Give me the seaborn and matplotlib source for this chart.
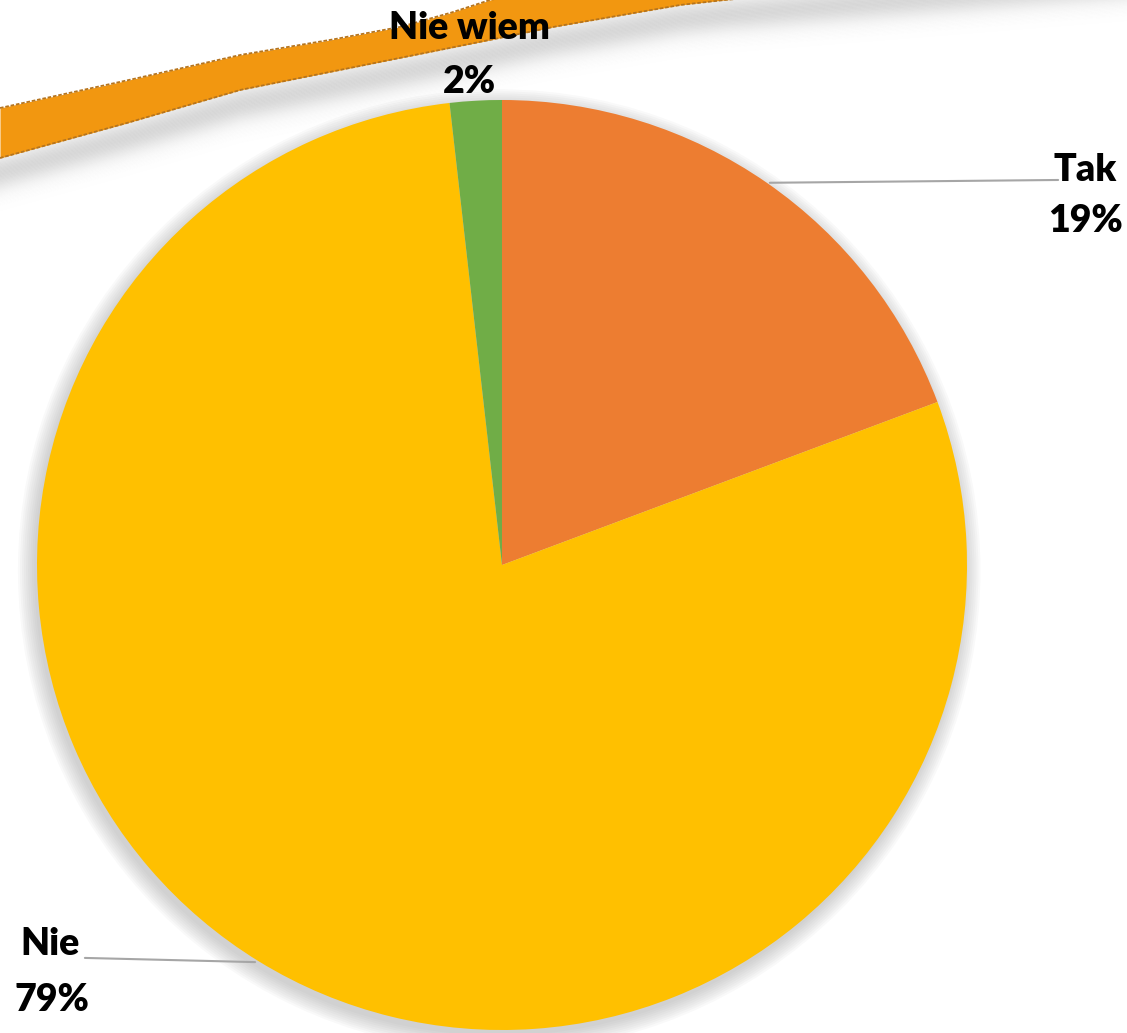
import numpy as np
import matplotlib
matplotlib.use("Agg")
import matplotlib.pyplot as plt
import seaborn as sns

# Data (shares)
categories = ["Tak", "Nie", "Nie wiem"]
shares = [19.3, 78.9, 1.8]
slice_colors = ["#ED7D31", "#FFC000", "#70AD47"]

sns.set_theme(style="white")
plt.rcParams["font.family"] = ["Lato", "DejaVu Sans"]

W, H = 1127, 1033
fig = plt.figure(figsize=(W / 100, H / 100), dpi=100)
fig.patch.set_facecolor("white")

# decoration layer in pixel coordinates (orange swoosh + shadow)
deco = fig.add_axes([0, 0, 1, 1])
deco.set_xlim(0, W)
deco.set_ylim(H, 0)
deco.axis("off")

top_pts_x = [0, 120, 240, 330, 400, 450, 490, 560, 700, 1127]
top_pts_y = [108, 82, 55, 40, 27, 13, 0, -15, -35, -80]
bot_pts_x = [0, 120, 240, 330, 400, 480, 553, 680, 724, 850, 1000, 1127]
bot_pts_y = [158, 125, 90, 72, 58, 42, 27, 5, 0, -10, -22, -32]
xs = np.linspace(0, W, 600)
top_curve = np.interp(xs, top_pts_x, top_pts_y)
bot_curve = np.interp(xs, bot_pts_x, bot_pts_y)

# soft grey shadow below the band (light just under the edge, darker a bit lower)
n_strips = 60
for k in range(n_strips):
    t = k / n_strips
    a = 0.30 * np.exp(-((t - 0.18) / 0.22) ** 2)
    deco.fill_between(xs, bot_curve + k * 1.3, bot_curve + (k + 1) * 1.3,
                      color="#7a7a7a", alpha=a, lw=0)
band = xs < 760
deco.fill_between(xs[band], top_curve[band], bot_curve[band], color="#F29710", lw=0)
deco.plot(xs[band], top_curve[band], color="#B5741E", lw=1.3, ls=(0, (2, 1)))
deco.plot(xs[band], bot_curve[band], color="#B5741E", lw=1.3, ls=(0, (2, 1)))

# pie axes: 465 px per data unit, centre at (502, 565) px
ax = fig.add_axes([0, 0, 1, 1])
ax.set_facecolor("none")
R_PX, CX, CY = 465, 502, 565

# soft shadow round the pie
for s in np.linspace(1.035, 1.0, 9):
    ax.add_patch(plt.Circle((-0.006, -0.012), s, color="#8c8c8c", alpha=0.05, lw=0))

wedges, _ = ax.pie(shares, colors=sns.color_palette(slice_colors), startangle=90,
                   counterclock=False, radius=1.0,
                   wedgeprops=dict(linewidth=0))

ax.set_xlim((0 - CX) / R_PX, (W - CX) / R_PX)
ax.set_ylim((CY - H) / R_PX, CY / R_PX)
ax.set_aspect("auto")
ax.axis("off")

lab_kw = dict(fontsize=27, fontweight="heavy", color="black", ha="center", va="center")

# Tak
ax.plot([0.576, 1.196], [0.822, 0.828], color="#A6A6A6", lw=1.5)
ax.text(1.254, 0.850, categories[0], **lab_kw)
ax.text(1.254, 0.740, f"{shares[0]:.0f}%", **lab_kw)

# Nie
ax.plot([-0.531, -0.897], [-0.854, -0.845], color="#A6A6A6", lw=1.5)
ax.text(-0.972, -0.815, categories[1], **lab_kw)
ax.text(-0.968, -0.935, f"{shares[1]:.0f}%", **lab_kw)

# Nie wiem
ax.text(-0.069, 1.155, categories[2], **lab_kw)
ax.text(-0.069, 1.039, f"{shares[2]:.0f}%", **lab_kw)

fig.savefig("out.png", dpi=100, facecolor="white")
